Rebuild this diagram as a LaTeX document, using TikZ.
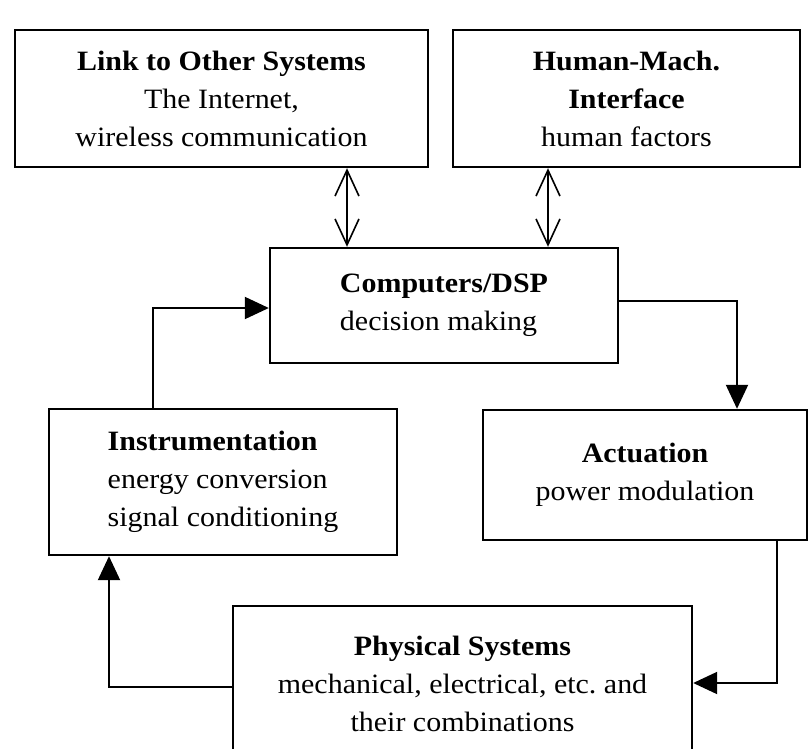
\documentclass[tikz,border=0pt]{standalone}
\usepackage{fontspec}
\setmainfont{Liberation Serif}[FakeStretch=1.07]
\usetikzlibrary{arrows.meta}
\begin{document}
\begin{tikzpicture}[x=1pt,y=-1pt,
  box/.style={draw, line width=2.4pt, inner sep=0pt, font=\fontsize{28}{38}\selectfont},
  arr/.style={line width=2pt, -{Triangle[length=24pt,width=22pt]}},
  dbl/.style={line width=1.6pt, {Straight Barb[length=26pt,width=24pt,line width=1.6pt]}-{Straight Barb[length=26pt,width=24pt,line width=1.6pt]}}]
\clip (0,0) rectangle (811,749);
\useasboundingbox (0,0) rectangle (811,749);
\fill[white] (0,0) rectangle (811,749);
\node[box, minimum width=413pt, minimum height=137pt, align=center] (link) at (221.5,98.5)
  {\textbf{Link to Other Systems}\\The Internet,\\wireless communication};
\node[box, minimum width=347pt, minimum height=137pt, align=center] (hmi) at (626.5,98.5)
  {\textbf{Human-Mach.}\\\textbf{Interface}\\human factors};
\node[box, minimum width=348pt, minimum height=115pt, align=left] (comp) at (444,305.5)
  {\textbf{Computers/DSP}\\decision making};
\node[box, minimum width=348pt, minimum height=146pt, align=left] (instr) at (223,482)
  {\textbf{Instrumentation}\\energy conversion\\signal conditioning};
\node[box, minimum width=324pt, minimum height=130pt, align=center] (act) at (645,475)
  {\textbf{Actuation}\\power modulation};
\node[box, minimum width=459pt, minimum height=156pt, align=center] (phys) at (462.5,684)
  {\textbf{Physical Systems}\\mechanical, electrical, etc.\ and\\their combinations};
\coordinate (xa) at (347,0);
\coordinate (xh) at (548,0);
\coordinate (xb) at (153,0);
\coordinate (yb) at (0,308);
\coordinate (xc) at (737,0);
\coordinate (yc) at (0,301);
\coordinate (xd) at (777,0);
\coordinate (ye) at (0,683);
\coordinate (xe) at (109,0);
\coordinate (yf) at (0,687);
\draw[dbl] (link.south -| xa) -- (comp.north -| xa);
\draw[dbl] (hmi.south -| xh) -- (comp.north -| xh);
\draw[arr] (instr.north -| xb) |- (comp.west |- yb);
\draw[arr] (comp.east |- yc) -| (act.north -| xc);
\draw[arr] (act.south -| xd) |- (phys.east |- ye);
\draw[arr] (phys.west |- yf) -| (instr.south -| xe);
\end{tikzpicture}
\end{document}
